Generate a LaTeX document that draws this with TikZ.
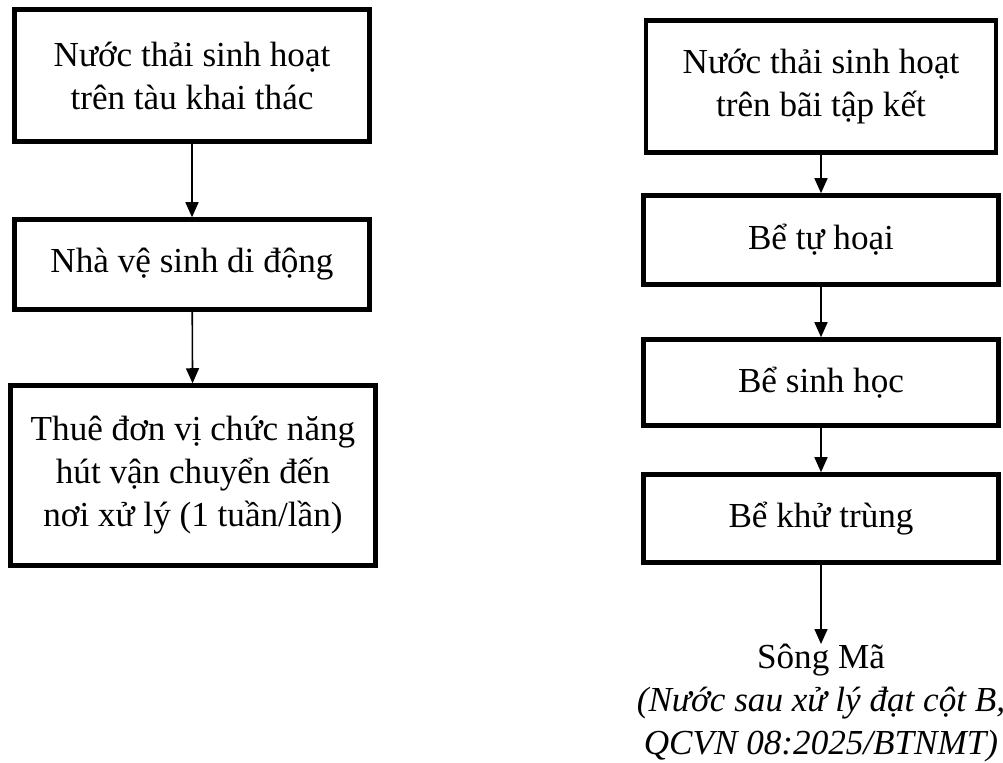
\documentclass[tikz,border=0pt]{standalone}
\usepackage{fontspec}
\setmainfont{Liberation Serif}
\usepackage{tikz}
\usetikzlibrary{arrows.meta}

\begin{document}
\begin{tikzpicture}[x=0.02cm, y=-0.02cm,
    hop/.style={draw, line width=2.6pt, align=center, inner sep=0pt,
        minimum width=7.1cm, font=\fontsize{20}{24.5}\selectfont},
    muiten/.style={-{Triangle[length=0.3cm, width=0.26cm]}, line width=0.9pt}]
        \useasboundingbox (0,0) rectangle (1003,763);

        % Cột trái
        \node[hop, minimum height=2.64cm] (l1) at (192,75.5) {Nước thải sinh hoạt\\trên tàu khai thác};
        \node[hop, minimum height=1.8cm] (l2) at (192,264.5) {Nhà vệ sinh di động};
        \node[hop, minimum height=3.6cm, minimum width=7.3cm] (l3) at (193,475.5) {Thuê đơn vị chức năng\\hút vận chuyển đến\\nơi xử lý (1 tuần/lần)};

        \draw[muiten] (l1) -- (l2);
        \draw[muiten] (l2) -- (l3);

        % Cột phải
        \node[hop, minimum height=2.64cm, minimum width=7.0cm] (r1) at (821,86.5) {Nước thải sinh hoạt\\trên bãi tập kết};
        \node[hop, minimum height=1.78cm] (r2) at (821,240) {Bể tự hoại};
        \node[hop, minimum height=1.72cm] (r3) at (821,382.5) {Bể sinh học};
        \node[hop, minimum height=1.76cm] (r4) at (821,518.5) {Bể khử trùng};

        % Nơi tiếp nhận
        \node[anchor=north, align=center, inner sep=0pt, font=\fontsize{20}{24.5}\selectfont] (song) at (821,644)
            {Sông Mã\\\textit{(Nước sau xử lý đạt cột B,}\\\textit{QCVN 08:2025/BTNMT)}};

        \draw[muiten] (r1) -- (r2);
        \draw[muiten] (r2) -- (r3);
        \draw[muiten] (r3) -- (r4);
        \draw[muiten] (r4) -- (song);
    \end{tikzpicture}
\end{document}
